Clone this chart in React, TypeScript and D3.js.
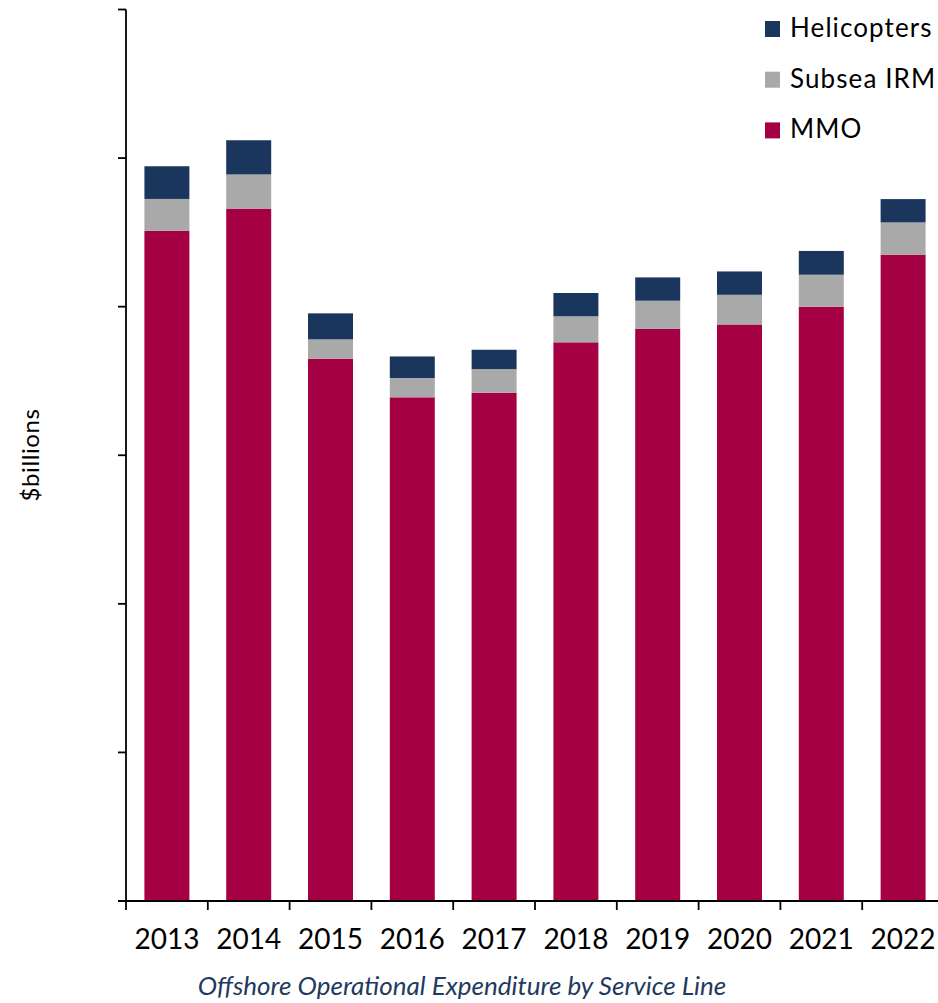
import React from "react";
import * as d3 from "d3";

const years = ["2013", "2014", "2015", "2016", "2017", "2018", "2019", "2020", "2021", "2022"];
const mmo = [4.51, 4.66, 3.65, 3.39, 3.42, 3.76, 3.85, 3.88, 4.0, 4.35];
const subseaIRM = [0.215, 0.23, 0.13, 0.13, 0.16, 0.175, 0.19, 0.2, 0.215, 0.217];
const helicopters = [0.22, 0.23, 0.175, 0.145, 0.13, 0.157, 0.157, 0.157, 0.16, 0.157];
const seriesKeys = ["MMO", "Subsea IRM", "Helicopters"];
const seriesColors = ["#A50044", "#A9A9A9", "#1A365D"];
const yTicks = [0, 1, 2, 3, 4, 5, 6];
const legendOrder = ["Helicopters", "Subsea IRM", "MMO"];

export default function App() {
  const W = 938, H = 1003;
  const x = d3.scaleBand<string>().domain(years).range([126, 944]).paddingInner(0.45).paddingOuter(0.225);
  const y = d3.scaleLinear().domain([0, 6]).range([901, 9.5]);
  const rows = years.map((yr, i) => ({ year: yr, MMO: mmo[i], "Subsea IRM": subseaIRM[i], Helicopters: helicopters[i] }));
  const stack = d3.stack<any>().keys(seriesKeys)(rows);
  const color = d3.scaleOrdinal<string, string>().domain(seriesKeys).range(seriesColors);
  const font = "Lato, 'Open Sans', sans-serif";
  const step = x.step();
  const tickXs = years.map((_, i) => 126 + i * step);

  return (
    <svg width={W} height={H} style={{ position: "absolute", left: 0, top: 0, background: "#fff" }}>
      <rect x={0} y={0} width={W} height={H} fill="#fff" />
      {stack.map((s) => (
        <g key={s.key} fill={color(s.key)}>
          {s.map((d, i) => (
            <rect key={i} x={x(years[i])} width={x.bandwidth()} y={y(d[1])} height={y(d[0]) - y(d[1])} />
          ))}
        </g>
      ))}
      <line x1={126} x2={126} y1={y(6)} y2={901} stroke="#000" strokeWidth={1.8} />
      {yTicks.map((t) => (
        <line key={t} x1={118} x2={126} y1={y(t)} y2={y(t)} stroke="#000" strokeWidth={1.8} />
      ))}
      <line x1={118} x2={W} y1={901} y2={901} stroke="#000" strokeWidth={1.8} />
      {tickXs.map((tx, i) => (
        <line key={i} x1={tx} x2={tx} y1={901} y2={910} stroke="#000" strokeWidth={1.8} />
      ))}
      {years.map((yr) => (
        <text key={yr} x={(x(yr) as number) + x.bandwidth() / 2} y={949} textAnchor="middle" fontFamily={font} fontSize={28} fill="#000">
          {yr}
        </text>
      ))}
      <text transform="translate(39,455) rotate(-90)" textAnchor="middle" fontFamily={font} fontSize={24} letterSpacing={0.6} fill="#000">
        $billions
      </text>
      <text x={462} y={995} textAnchor="middle" fontFamily={font} fontStyle="italic" fontSize={26} fill="#1F3A60">
        Offshore Operational Expenditure by Service Line
      </text>
      {legendOrder.map((k, i) => (
        <g key={k} transform={`translate(765,${21 + i * 50.7})`}>
          <rect x={0} y={0} width={15} height={16} fill={color(k)} />
          <text x={25} y={16} fontFamily={font} fontSize={26} letterSpacing={1.1} fill="#000">
            {k}
          </text>
        </g>
      ))}
    </svg>
  );
}
